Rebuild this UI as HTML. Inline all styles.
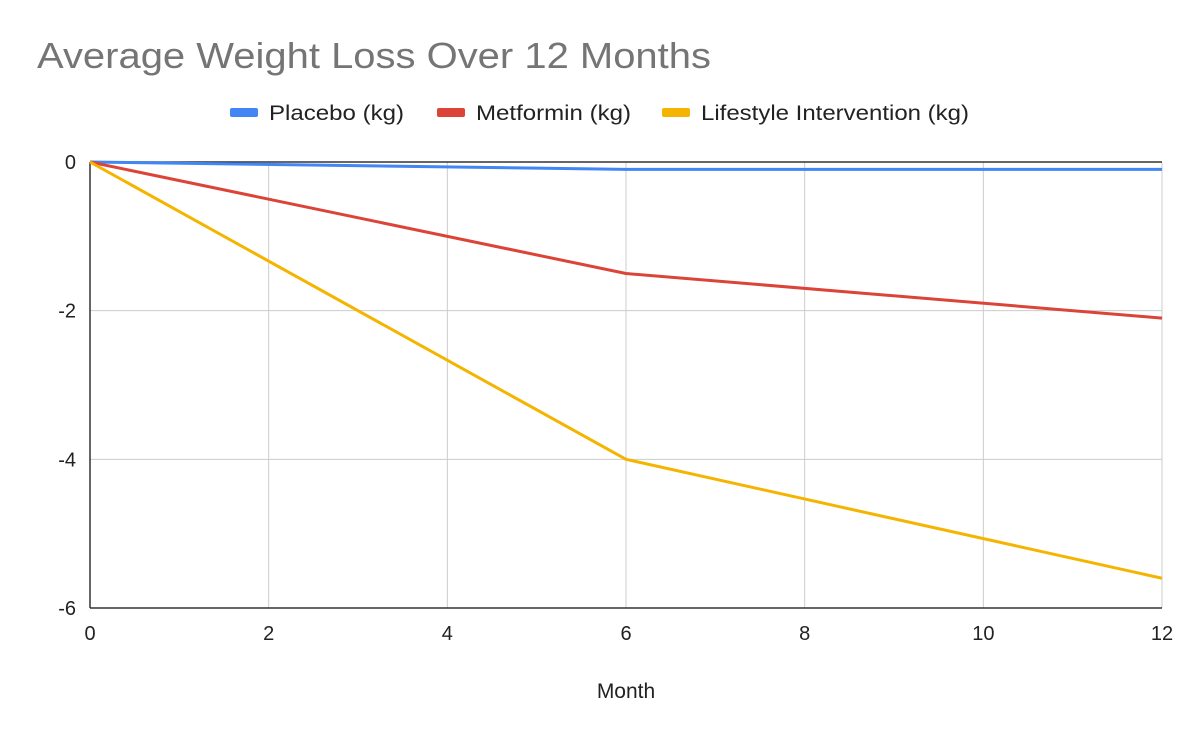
<!DOCTYPE html>
<html><head><meta charset="utf-8"><style>
body{margin:0;background:#fff;}
svg{display:block;font-family:"Liberation Sans",Arial,sans-serif;}
</style></head><body>
<svg id="chart" width="1200" height="742">
<text x="37" y="68" font-size="36" fill="#757575" textLength="674" lengthAdjust="spacingAndGlyphs">Average Weight Loss Over 12 Months</text>
<g id="legend"></g>
<g id="grid"></g>
<g id="series"></g>
<g id="ticks"></g>
<text x="626" y="698" font-size="21" text-anchor="middle" fill="#222">Month</text>
</svg>
<script>
const months=[0,6,12];
const placebo=[0,-0.1,-0.1];
const metformin=[0,-1.5,-2.1];
const lifestyle=[0,-4,-5.6];
const xTicks=[0,2,4,6,8,10,12];
const yTicks=[0,-2,-4,-6];
const seriesNames=["Placebo (kg)","Metformin (kg)","Lifestyle Intervention (kg)"];
const colors=["#4285f4","#db4437","#f4b400"];
const X0=90,X1=1162,Y0=162,Y1=608;
const xs=v=>X0+(v-0)/(12-0)*(X1-X0);
const ys=v=>Y0+(0-v)/(0-(-6))*(Y1-Y0);
const NS="http://www.w3.org/2000/svg";
function mk(tag,attrs,parent){const e=document.createElementNS(NS,tag);for(const k in attrs)e.setAttribute(k,attrs[k]);parent.appendChild(e);return e;}
const grid=document.getElementById('grid'),ticks=document.getElementById('ticks'),series=document.getElementById('series'),legend=document.getElementById('legend');
xTicks.forEach(t=>{
 if(t!==0){const l=mk('line',{x1:xs(t),x2:xs(t),y1:Y0,y2:Y1,stroke:'#cccccc','stroke-width':1},grid);
 
 }
 const tx=mk('text',{x:xs(t),y:Y1+32,'font-size':20,'text-anchor':'middle',fill:'#222'},ticks);tx.textContent=t;
 
 
});
yTicks.forEach(t=>{
 if(t!==0&&t!==-6){const l=mk('line',{x1:X0,x2:X1,y1:ys(t),y2:ys(t),stroke:'#cccccc','stroke-width':1},grid);
 
 }
 const tx=mk('text',{x:76,y:ys(t)+7,'font-size':20,'text-anchor':'end',fill:'#222'},ticks);tx.textContent=t;
 
 
});
const base=mk('line',{x1:X0,x2:X1,y1:ys(0),y2:ys(0),stroke:'#333','stroke-width':1.5},grid);


const xa=mk('line',{x1:X0,x2:X1,y1:Y1,y2:Y1,stroke:'#333','stroke-width':1.5},grid);


const ya=mk('line',{x1:X0,x2:X0,y1:Y0,y2:Y1,stroke:'#333','stroke-width':1.5},grid);


[placebo,metformin,lifestyle].forEach((d,i)=>{
 const p=mk('polyline',{points:d.map((v,j)=>xs(months[j])+','+ys(v)).join(' '),fill:'none',stroke:colors[i],'stroke-width':3,'stroke-linejoin':'round'},series);
 
 
});
const lx=[230,437,662];
const lw=[135,155,268];
seriesNames.forEach((n,i)=>{
 const g=mk('g',{},legend);
 
 
 mk('rect',{x:lx[i],y:108,width:28,height:9,rx:2,fill:colors[i]},g);
 const t=mk('text',{x:lx[i]+39,y:120,'font-size':21,fill:'#222',textLength:lw[i],lengthAdjust:'spacingAndGlyphs'},g);t.textContent=n;
});
</script>
</body></html>
